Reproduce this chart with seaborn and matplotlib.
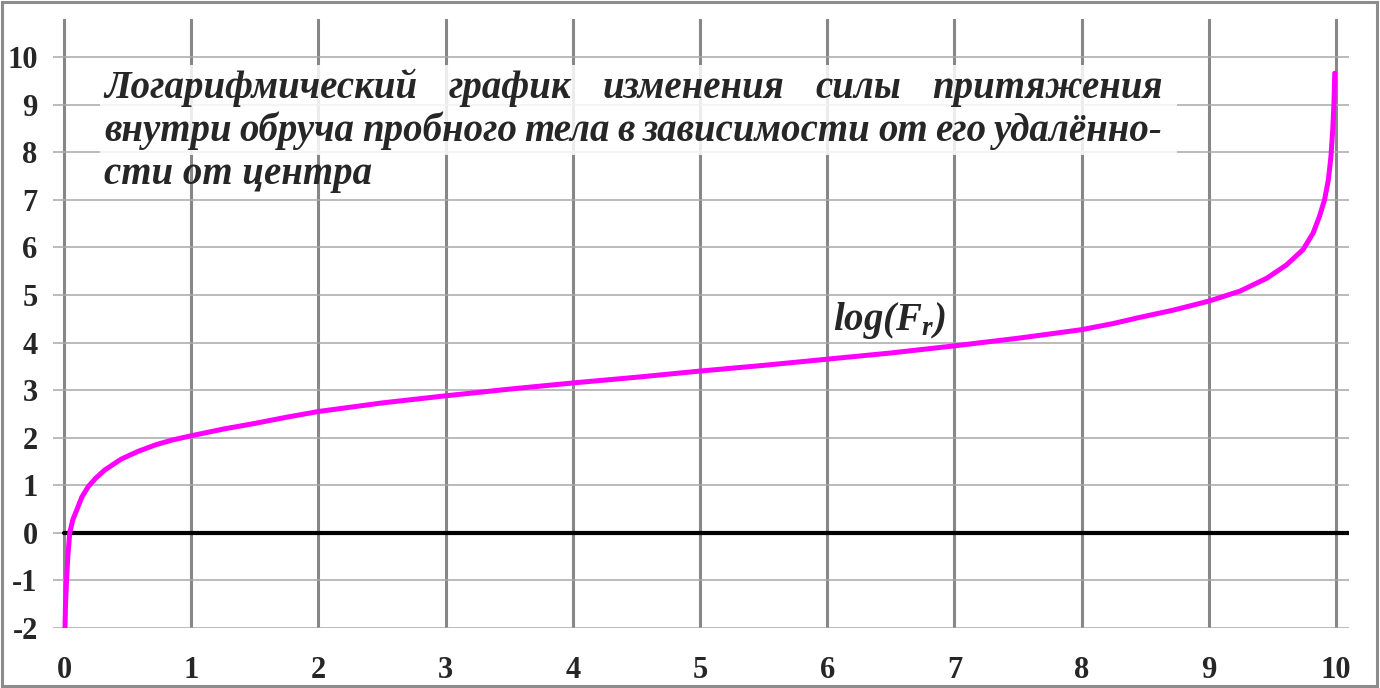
import matplotlib
matplotlib.use("Agg")
import matplotlib.pyplot as plt
import seaborn as sns
from matplotlib.patches import Rectangle

# distance from centre and log of attraction force
r_values = [0.008, 0.012, 0.02, 0.03, 0.045, 0.07, 0.1, 0.14, 0.19, 0.25, 0.32,
            0.45, 0.58, 0.72, 0.85, 1.0, 1.25, 1.5, 1.75, 2.0, 2.5, 3.0, 3.5,
            4.0, 4.5, 5.0, 5.5, 6.0, 6.5, 7.0, 7.5, 8.0, 8.25, 8.46, 8.72,
            9.0, 9.245, 9.455, 9.61, 9.74, 9.82, 9.87, 9.91, 9.94, 9.96,
            9.975, 9.985, 9.99]
log_force = [-2.0, -1.5, -1.0, -0.5, 0.0, 0.28, 0.48, 0.75, 0.97, 1.15, 1.32,
             1.55, 1.71, 1.85, 1.95, 2.04, 2.18, 2.30, 2.43, 2.55, 2.73, 2.88, 3.02,
             3.15, 3.27, 3.40, 3.52, 3.65, 3.78, 3.93, 4.09, 4.27, 4.40, 4.53, 4.68,
             4.87, 5.08, 5.35, 5.63, 5.95, 6.30, 6.65, 7.0, 7.42, 7.9,
             8.5, 9.1, 9.66]
x_ticks = list(range(0, 11))
y_ticks = list(range(-2, 11))
title_lines = [
    "Логарифмический график изменения силы притяжения",
    "внутри обруча пробного тела в зависимости от его удалённо-",
    "сти от центра",
]
curve_label = r"$log(F_r)$"

sns.set_style("white")
plt.rcParams['font.family'] = ['Liberation Serif', 'DejaVu Serif']
plt.rcParams['axes.unicode_minus'] = False
plt.rcParams['mathtext.fontset'] = 'custom'
plt.rcParams['mathtext.it'] = 'Liberation Serif:italic:bold'
plt.rcParams['mathtext.rm'] = 'Liberation Serif:italic:bold'

W, H = 1380, 688


def fx(px):
    return px / W


def fy(py):
    return 1 - py / H


fig = plt.figure(figsize=(W / 100, H / 100), dpi=100)
fig.patch.set_facecolor("white")
ax = fig.add_axes([fx(53), fy(628), fx(1349) - fx(53), fy(18.5) - fy(628)])

ppu = 127.2
ax.set_xlim(-11 / ppu, 10 + 13 / ppu)
ax.set_ylim(-2, 10.81)
ax.set_xticks(x_ticks)
ax.set_yticks(y_ticks)
for s in ax.spines.values():
    s.set_visible(False)
ax.grid(axis='x', color='#878787', lw=2.2)
ax.grid(axis='y', color='#a8a8a8', lw=1.1)
ax.set_axisbelow(True)
ax.tick_params(axis='y', length=0, pad=11, labelsize=22)
ax.tick_params(axis='x', length=0, pad=20, labelsize=22)
for lab in ax.get_xticklabels() + ax.get_yticklabels():
    lab.set_fontweight('bold')

x0, x1 = ax.get_xlim()
ax.axhline(0, xmin=(0 - x0) / (x1 - x0), xmax=1, color='black', lw=3, zorder=2)

sns.lineplot(x=r_values, y=log_force, ax=ax, color='#ff00ff', lw=3.6,
             sort=False, zorder=3)
ax.text(6.49, 4.47, curve_label, fontsize=28, ha='center', va='center', zorder=4)

# semi-transparent white box behind the first two title lines
box = Rectangle((fx(100), fy(155)), fx(1177) - fx(100), fy(65) - fy(155),
                transform=fig.transFigure, facecolor='white', alpha=0.85,
                edgecolor='none', zorder=1)
fig.add_artist(box)

renderer = fig.canvas.get_renderer()
title_kw = dict(fontsize=28, fontweight='bold', fontstyle='italic', va='baseline', zorder=3)


def justified(line, left, right, base):
    words = line.split()
    texts = [fig.text(0, fy(base), w, **title_kw) for w in words]
    widths = [t.get_window_extent(renderer).width for t in texts]
    gap = (right - left - sum(widths)) / (len(words) - 1)
    x = left
    for t, w in zip(texts, widths):
        t.set_x(fx(x))
        x += w + gap


justified(title_lines[0], 104, 1163, 98)
justified(title_lines[1], 104, 1163, 141)
fig.text(fx(104), fy(184), title_lines[2], **title_kw)

# outer frame
frame = Rectangle((fx(1.5), fy(686)), fx(1377) - fx(1.5), fy(1.5) - fy(686),
                  transform=fig.transFigure, fill=False, edgecolor='#8c8c8c',
                  lw=2.2, zorder=5)
fig.add_artist(frame)

fig.savefig("out.png", dpi=100)
plt.close(fig)
